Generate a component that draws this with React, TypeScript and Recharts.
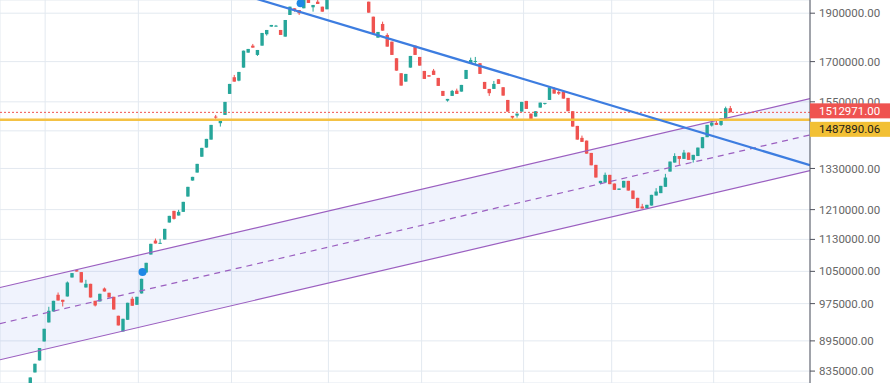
import {
  ComposedChart, Bar, Line, Area, Scatter, XAxis, YAxis, CartesianGrid, ReferenceLine,
} from "recharts";

// daily candles (index = trading day)
const openVals = [
  796000, 832400, 855700, 893800, 933700, 957500, 995000, 983600, 991100, 1035300,
  1053000, 1048200, 1011800, 1020400, 981300, 979800, 1009500, 999600, 990400, 948200,
  914600, 939400, 985900, 972400, 998000, 1047200, 1091400, 1127000, 1119400, 1129600,
  1174600, 1206600, 1193700, 1203800, 1246900, 1293500, 1317500, 1366300, 1395300, 1421100,
  1498300, 1475700, 1504100, 1578400, 1640100, 1627300, 1676700, 1735400, 1763500, 1726300,
  1763500, 1810300, 1842200, 1842200, 1828200, 1800400, 1892300, 1921600, 1914000, 1921600,
  1975000, 1926000, 1950900, 1928700, 1917200, 1990000, 2005000, 2030000, 2020000, 2050000,
  2040000, 2025000, 2000000, 1950900, 1884900, 1796200, 1853600, 1807400, 1779800, 1713200,
  1655300, 1623600, 1676700, 1763500, 1718400, 1664000, 1647700, 1665100, 1637500, 1589300,
  1554300, 1571200, 1590400, 1586800, 1633700, 1693700, 1699900, 1693700, 1622500, 1596600,
  1596600, 1632600, 1602900, 1556700, 1500700, 1501700, 1515500, 1553200, 1508600, 1498300,
  1529500, 1543700, 1556700, 1595500, 1585700, 1585700, 1564000, 1516900, 1466600, 1426800,
  1417900, 1378300, 1341000, 1285800, 1287600, 1310600, 1284700, 1266100, 1272900, 1292600,
  1264100, 1243200, 1218700, 1214100, 1221400, 1249800, 1256700, 1275000, 1320500, 1348100,
  1368500, 1359600, 1379400, 1356400, 1368500, 1393400, 1429100, 1467700, 1476800, 1470000,
  1492800, 1527400,
];

const highVals = [
  822900, 849200, 880400, 920200, 967900, 981300, 1000200, 983600, 1025800, 1045800,
  1053700, 1048200, 1029800, 1020400, 981300, 997300, 1011800, 999600, 990400, 948200,
  941600, 976900, 990400, 990400, 1032200, 1070800, 1118600, 1132200, 1131500, 1157700,
  1192800, 1206600, 1209300, 1231800, 1275000, 1304600, 1344100, 1394400, 1423500, 1470000,
  1504100, 1486900, 1549700, 1615100, 1648800, 1660200, 1743300, 1750200, 1770400, 1746100,
  1815700, 1828200, 1849400, 1849400, 1828200, 1870600, 1928700, 1921600, 1914000, 1990000,
  1985000, 1936300, 1962000, 1928700, 1995000, 2010000, 2040000, 2045000, 2060000, 2065000,
  2050000, 2030000, 2010000, 1950900, 1884900, 1819900, 1863400, 1814500, 1779800, 1713200,
  1655300, 1652600, 1722300, 1763500, 1718400, 1664000, 1647700, 1671600, 1637500, 1589300,
  1560400, 1592900, 1597700, 1611400, 1667700, 1715600, 1718400, 1693700, 1622500, 1596600,
  1626200, 1632600, 1602900, 1556700, 1500700, 1508600, 1549700, 1553200, 1508600, 1516900,
  1547200, 1546100, 1602900, 1602900, 1592900, 1585700, 1564000, 1516900, 1466600, 1434300,
  1417900, 1378300, 1341000, 1292600, 1317500, 1310600, 1284700, 1270000, 1292600, 1292600,
  1264100, 1243200, 1226200, 1223400, 1251800, 1271100, 1277900, 1313600, 1351200, 1377300,
  1368500, 1387900, 1379400, 1372200, 1395300, 1429100, 1470000, 1481200, 1484500, 1492800,
  1533000, 1535400,
];

const lowVals = [
  796000, 832400, 855700, 893800, 933700, 957500, 982000, 968600, 991100, 1035300,
  1049600, 1023500, 1011800, 988800, 968600, 979800, 1002500, 988800, 961900, 927300,
  914600, 939400, 970200, 972400, 998000, 1047200, 1091400, 1119400, 1119400, 1129600,
  1174600, 1182700, 1193700, 1203800, 1246900, 1293500, 1317500, 1366300, 1395300, 1421100,
  1490300, 1464300, 1504100, 1578400, 1623600, 1625000, 1676700, 1735400, 1755400, 1722300,
  1763500, 1804700, 1842200, 1842200, 1807400, 1800400, 1892300, 1906700, 1892300, 1921600,
  1945200, 1906700, 1940700, 1906700, 1917200, 1978000, 1998000, 2010000, 2015000, 2030000,
  2015000, 1990000, 1968000, 1902300, 1814500, 1796200, 1825300, 1759500, 1726300, 1665100,
  1608800, 1623600, 1676700, 1726300, 1684400, 1633700, 1642400, 1648800, 1607700, 1571200,
  1550700, 1571200, 1578400, 1586800, 1633700, 1693700, 1687100, 1652600, 1596600, 1571200,
  1596600, 1615100, 1572300, 1515500, 1489300, 1494800, 1515500, 1524900, 1490300, 1498300,
  1529500, 1540100, 1556700, 1579500, 1574800, 1561400, 1516900, 1464300, 1421100, 1413700,
  1376000, 1339700, 1302600, 1282900, 1287600, 1282900, 1266100, 1266100, 1272900, 1264100,
  1240300, 1214100, 1213100, 1214100, 1221400, 1249800, 1256700, 1275000, 1320500, 1348100,
  1341000, 1359600, 1356400, 1348100, 1368500, 1393400, 1429100, 1464300, 1470000, 1466600,
  1492800, 1512971,
];

const closeVals = [
  822900, 849200, 880400, 920200, 959100, 981300, 982000, 979100, 1023500, 1045800,
  1049600, 1023500, 1020400, 988800, 970800, 997300, 1002500, 988800, 961900, 927300,
  941600, 976900, 970200, 990400, 1032200, 1070800, 1118600, 1119400, 1121100, 1157700,
  1192800, 1184600, 1203800, 1231800, 1275000, 1304600, 1344100, 1394400, 1423500, 1470000,
  1496200, 1486900, 1549700, 1615100, 1623600, 1660200, 1743300, 1750200, 1755400, 1746100,
  1815700, 1828200, 1849400, 1846400, 1807400, 1870600, 1928700, 1909700, 1899700, 1981000,
  1945200, 1936300, 1940700, 1906700, 1990000, 2005000, 2030000, 2020000, 2050000, 2040000,
  2025000, 2000000, 1975000, 1902300, 1814500, 1819900, 1825300, 1759500, 1726300, 1665100,
  1608800, 1652600, 1722300, 1726300, 1684400, 1633700, 1642400, 1648800, 1607700, 1571200,
  1560400, 1589300, 1578400, 1611400, 1667700, 1706500, 1702600, 1652600, 1596600, 1581000,
  1615100, 1615100, 1572300, 1515500, 1494800, 1508600, 1549700, 1524900, 1490300, 1516900,
  1547200, 1546100, 1602900, 1579500, 1579500, 1561400, 1516900, 1464300, 1421100, 1413700,
  1376000, 1339700, 1302600, 1292600, 1310600, 1282900, 1266100, 1270000, 1292600, 1264100,
  1240300, 1214100, 1213100, 1223400, 1251800, 1261300, 1277900, 1302600, 1351200, 1368500,
  1359600, 1379400, 1356400, 1372200, 1395300, 1429100, 1470000, 1477800, 1470000, 1492800,
  1527400, 1512971,
];

const priceTicks = [835000, 895000, 975000, 1050000, 1130000, 1210000, 1330000, 1450000, 1550000, 1700000, 1900000];
const monthTicks = [3.2, 23.3, 43.4, 64.3, 84.4, 106.4, 125.4, 147.4];
const xDomain = [-6.54, 168.18];
const yDomain = [812460, 1958500];

const lastPrice = 1512971;
const levelPrice = 1487890.06;

// regression channel, at the left and right edge of the plot
const channelUpper = [1011790, 1561430];
const channelMid = [931230, 1436480];
const channelLower = [857010, 1323230];

// falling trend line
const trendX = [40, 168.18];
const trendVals = [2019680, 1340100];

// signal markers
const markerX = [24.2, 58.3];
const markerVals = [1048200, 1943800];

const UP = "#26a69a";
const DOWN = "#ef5350";
const GRID = "#e3e9f0";
const PURPLE = "#9b5fc0";
const YELLOW = "#f4c245";

const candles = openVals.map((o, i) => ({
  i, open: o, high: highVals[i], low: lowVals[i], close: closeVals[i],
}));
const channelData = xDomain.map((x, k) => ({
  i: x, band: [channelLower[k], channelUpper[k]], up: channelUpper[k], mid: channelMid[k], lo: channelLower[k],
}));
const trendData = trendX.map((x, k) => ({ i: x, v: trendVals[k] }));
const markerData = markerX.map((x, k) => ({ i: x, v: markerVals[k] }));

const W = 890;
const H = 383;
const margin = { top: 0, right: 0, bottom: 0, left: 0 };

function Candle(props: any) {
  const { x, y, width, height, payload } = props;
  if (!payload) return null;
  const { open, close, high, low } = payload;
  const lh = Math.log(high);
  const span = lh - Math.log(low) || 1;
  const py = (v: number) => y + (height * (lh - Math.log(v))) / span;
  const cx = x + width / 2;
  const color = close >= open ? UP : DOWN;
  const top = py(Math.max(open, close));
  const bottom = py(Math.min(open, close));
  return (
    <g>
      <line x1={cx} x2={cx} y1={y} y2={y + height} stroke={color} strokeWidth={1} />
      <rect x={cx - 1.7} y={top} width={3.4} height={Math.max(1, bottom - top)} fill={color} />
    </g>
  );
}

function PriceTag({ viewBox, text, bg, color, shift }: any) {
  if (!viewBox) return null;
  const left = viewBox.x + viewBox.width;
  const cy = viewBox.y + shift;
  return (
    <g>
      <rect x={left} y={cy - 7.5} width={80} height={15} fill={bg} />
      <text x={left + 9} y={cy} dy="0.36em" fill={color} fontSize={11.5} fontFamily="Roboto">
        {text}
      </text>
    </g>
  );
}

// the price tags sit on a second, transparent chart so they cover the tick labels
function TagOverlay() {
  return (
    <ComposedChart width={W} height={H} data={candles} margin={margin}>
      <XAxis dataKey="i" type="number" domain={xDomain} allowDataOverflow hide />
      <YAxis orientation="right" scale="log" domain={yDomain} allowDataOverflow width={80} tick={false} axisLine={false} tickLine={false} />
      <ReferenceLine
        y={levelPrice}
        strokeOpacity={0}
        label={(p: any) => <PriceTag viewBox={p.viewBox} text="1487890.06" bg="#f2c035" color="#1a1a1a" shift={9.7} />}
      />
      <ReferenceLine
        y={lastPrice}
        strokeOpacity={0}
        label={(p: any) => <PriceTag viewBox={p.viewBox} text="1512971.00" bg={DOWN} color="#fff" shift={-1.5} />}
      />
    </ComposedChart>
  );
}

export default function App() {
  return (
    <div style={{ position: "absolute", left: 0, top: 0, width: W, height: H, background: "#fff", fontFamily: "Roboto" }}>
      <ComposedChart width={W} height={H} data={candles} margin={margin}>
        <CartesianGrid stroke={GRID} />
        <XAxis dataKey="i" type="number" domain={xDomain} ticks={monthTicks} allowDataOverflow hide />
        <YAxis
          orientation="right"
          scale="log"
          domain={yDomain}
          allowDataOverflow
          ticks={priceTicks}
          interval={0}
          width={80}
          tickSize={5}
          tickMargin={4}
          stroke="#50535e"
          tick={{ fill: "#666", fontSize: 11.5, fontFamily: "Roboto" }}
          tickFormatter={(v: number) => v.toFixed(2)}
        />
        <Area data={channelData} dataKey="band" stroke="none" fill="#5a78e6" fillOpacity={0.09} isAnimationActive={false} />
        <Line data={channelData} dataKey="up" stroke={PURPLE} strokeWidth={1.2} dot={false} isAnimationActive={false} />
        <Line data={channelData} dataKey="mid" stroke={PURPLE} strokeWidth={1.2} strokeDasharray="6 5" dot={false} isAnimationActive={false} />
        <Line data={channelData} dataKey="lo" stroke={PURPLE} strokeWidth={1.2} dot={false} isAnimationActive={false} />
        <ReferenceLine y={levelPrice} stroke={YELLOW} strokeWidth={2.5} />
        <ReferenceLine y={lastPrice} stroke={DOWN} strokeDasharray="2 2" />
        <Bar dataKey={(d: any) => [d.low, d.high]} barSize={4} shape={<Candle />} isAnimationActive={false} />
        <Line data={trendData} dataKey="v" stroke="#3d7de0" strokeWidth={2.2} dot={false} isAnimationActive={false} />
        <Scatter
          data={markerData}
          dataKey="v"
          fill="#1e88e5"
          shape={(p: any) => <circle cx={p.cx} cy={p.cy} r={4} fill="#1e88e5" />}
          isAnimationActive={false}
        />
      </ComposedChart>
      <div style={{ position: "absolute", left: 0, top: 0, pointerEvents: "none" }}>
        <TagOverlay />
      </div>
    </div>
  );
}
